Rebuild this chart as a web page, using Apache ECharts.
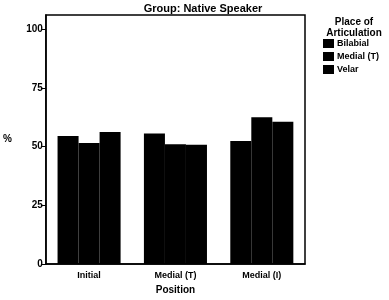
<!DOCTYPE html>
<html>
<head>
<meta charset="utf-8">
<script src="https://cdn.jsdelivr.net/npm/echarts@6/dist/echarts.min.js"></script>
<style>
  html, body { margin: 0; padding: 0; background: #fff; }
  #chart { width: 389px; height: 300px; }
</style>
</head>
<body>
<div id="chart"></div>
<script>
const positions = ['Initial', 'Medial (T)', 'Medial (I)'];
const places = ['Bilabial', 'Medial (T)', 'Velar'];
const bilabial = [54.5, 55.6, 52.4];
const medialT = [51.5, 51.0, 62.5];
const velar = [56.2, 50.8, 60.6];
const yTicks = [0, 25, 50, 75, 100];

const chart = echarts.init(document.getElementById('chart'));
const font = 'Liberation Sans, Arial, sans-serif';

const seriesData = [bilabial, medialT, velar];

const option = {
  animation: false,
  textStyle: { fontFamily: font },
  title: [{
    text: 'Group: Native Speaker',
    left: 203,
    top: 3,
    padding: 0,
    textAlign: 'center',
    textStyle: { fontSize: 11, fontWeight: 'bold', color: '#000', fontFamily: font }
  }, {
    text: 'Place of\nArticulation',
    left: 354,
    top: 17,
    padding: 0,
    textAlign: 'center',
    textStyle: { fontSize: 10, fontWeight: 'bold', color: '#000', lineHeight: 11, fontFamily: font }
  }],
  legend: {
    orient: 'vertical',
    left: 323,
    top: 39,
    padding: 0,
    itemWidth: 11,
    itemHeight: 9,
    itemGap: 4,
    icon: 'rect',
    textStyle: { fontSize: 9, fontWeight: 'bold', color: '#000', padding: [0, 0, 0, -2] },
    data: places
  },
  grid: {
    left: 45,
    right: 84,
    top: 15,
    bottom: 33,
    show: true,
    borderColor: '#000',
    borderWidth: 1.5
  },
  xAxis: {
    type: 'category',
    data: positions,
    name: 'Position',
    nameLocation: 'middle',
    nameGap: 20,
    nameTextStyle: { fontSize: 10, fontWeight: 'bold', color: '#000' },
    axisLine: { lineStyle: { color: '#000', width: 1.5 } },
    axisTick: { alignWithLabel: true, length: 4, lineStyle: { color: '#000' } },
    axisLabel: { fontSize: 9, fontWeight: 'bold', color: '#000', margin: 7 }
  },
  yAxis: {
    type: 'value',
    min: 0,
    max: 106,
    interval: 25,
    name: '%',
    nameLocation: 'middle',
    nameRotate: 0,
    nameGap: 34,
    nameTextStyle: { fontSize: 10, fontWeight: 'bold', color: '#000' },
    axisLine: { show: true, lineStyle: { color: '#000', width: 1.5 } },
    axisTick: { show: true, length: 5, customValues: yTicks, lineStyle: { color: '#000' } },
    axisLabel: { fontSize: 10, fontWeight: 'bold', color: '#000', margin: 3, customValues: yTicks },
    splitLine: { show: false }
  },
  series: places.map((name, i) => ({
    name: name,
    type: 'bar',
    data: seriesData[i],
    barGap: '0%',
    barCategoryGap: '27%',
    itemStyle: { color: '#000' }
  }))
};

chart.setOption(option);
</script>
</body>
</html>
